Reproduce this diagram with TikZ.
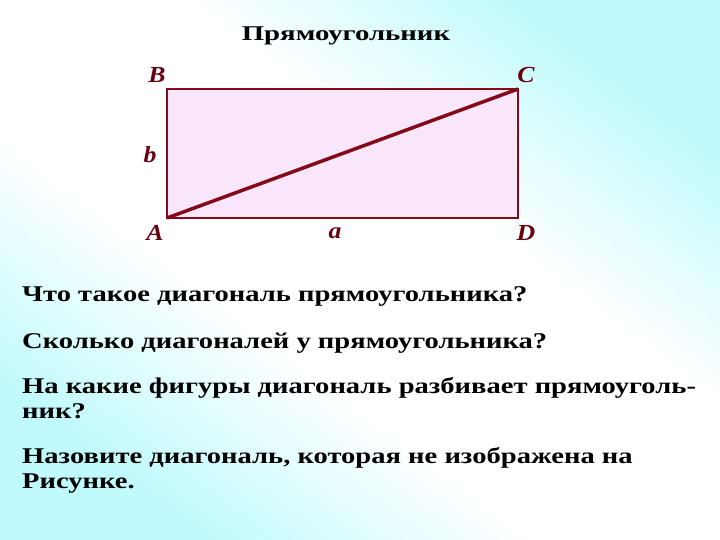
\documentclass[tikz,border=0pt]{standalone}
\usepackage{fontspec}
\setmainfont{Liberation Serif}
\newfontfamily\titlefont[FakeStretch=1.37]{Liberation Serif}
\newfontfamily\qfont[FakeStretch=1.27]{Liberation Serif}
\newfontfamily\lblfont[FakeStretch=1.12]{Liberation Serif}
\usetikzlibrary{positioning}
\definecolor{bgcyan}{RGB}{192,250,252}
\definecolor{rectline}{RGB}{130,10,25}
\definecolor{rectfill}{RGB}{250,230,250}
\definecolor{lblred}{RGB}{105,0,15}
\pgfdeclareverticalshading{bgfade}{100bp}{color(0bp)=(bgcyan); color(25bp)=(bgcyan); color(41bp)=(white); color(59bp)=(white); color(75bp)=(bgcyan); color(100bp)=(bgcyan)}

\begin{document}
\begin{tikzpicture}[x=1pt,y=-1pt]
\shade[shading=bgfade, shading angle=-37] (0,0) rectangle (720,540);
\useasboundingbox (0,0) rectangle (720,540);

\node[font=\titlefont\bfseries\fontsize{21}{25}\selectfont] (title) at (346,36) {Прямоугольник};

\coordinate (A) at (167,218);
\coordinate (B) at (167,89);
\coordinate (C) at (518,89);
\coordinate (D) at (518,218);

\draw[rectline, line width=2pt, fill=rectfill] (A) -- (B) -- (C) -- (D) -- cycle;
\draw[rectline, line width=3.5pt] (A) -- (C);

\begin{scope}[every node/.style={text=lblred,font=\lblfont\bfseries\itshape\fontsize{23}{27}\selectfont}]
    \node (labB) at (157,75) {B};
    \node (labC) at (526,75) {C};
    \node (labb) at (150,155) {b};
    \node (labA) at (155,233) {A};
    \node (laba) at (335,233) {a};
    \node (labD) at (526,233) {D};
\end{scope}

\begin{scope}[every node/.style={anchor=base west,align=left,inner sep=0pt,font=\qfont\bfseries\fontsize{22.5}{25}\selectfont}]
    \node (q1) at (22,301) {Что такое диагональ прямоугольника?};
    \node (q2) at (22,348) {Сколько диагоналей у прямоугольника?};
    \node (q3) at (22,418) {На какие фигуры диагональ разбивает прямоуголь-\\ник?};
    \node (q4) at (22,488) {Назовите диагональ, которая не изображена на\\Рисунке.};
\end{scope}

\end{tikzpicture}
\end{document}
